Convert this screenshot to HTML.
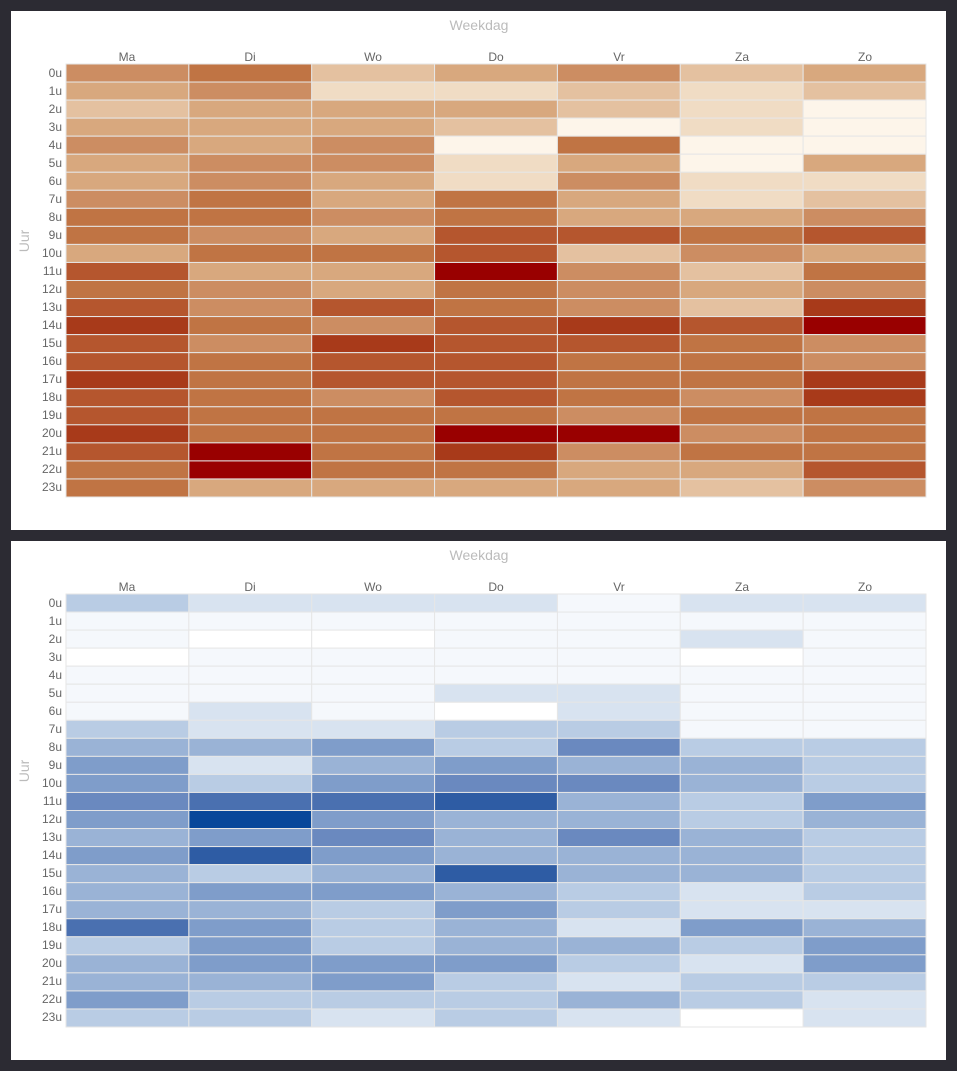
<!DOCTYPE html>
<html><head><meta charset="utf-8"><style>
body{margin:0;background:#2c2b33;width:957px;height:1071px;overflow:hidden;font-family:"Liberation Sans",sans-serif}
.p{position:absolute;left:11px;width:935px;height:519px;background:#fff}
svg{position:absolute;left:0;top:0}
.t{fill:#bbb;font-size:14px}
.d{fill:#666;font-size:12px;text-anchor:middle}
.r{fill:#666;font-size:12px;text-anchor:end}
</style></head><body>
<div class="p" style="top:11px"><svg width="935" height="519" id="s1">
<text class="t" x="468" y="19" text-anchor="middle">Weekdag</text>
<text class="t" transform="translate(18,230) rotate(-90)" text-anchor="middle">Uur</text>
<g id="d1"><text class="d" x="116" y="50">Ma</text><text class="d" x="239" y="50">Di</text><text class="d" x="362" y="50">Wo</text><text class="d" x="485" y="50">Do</text><text class="d" x="608" y="50">Vr</text><text class="d" x="731" y="50">Za</text><text class="d" x="854" y="50">Zo</text></g>
<g id="r1"><text class="r" x="51" y="66">0u</text><text class="r" x="51" y="84">1u</text><text class="r" x="51" y="102">2u</text><text class="r" x="51" y="120">3u</text><text class="r" x="51" y="138">4u</text><text class="r" x="51" y="156">5u</text><text class="r" x="51" y="174">6u</text><text class="r" x="51" y="192">7u</text><text class="r" x="51" y="210">8u</text><text class="r" x="51" y="228">9u</text><text class="r" x="51" y="246">10u</text><text class="r" x="51" y="264">11u</text><text class="r" x="51" y="282">12u</text><text class="r" x="51" y="300">13u</text><text class="r" x="51" y="318">14u</text><text class="r" x="51" y="336">15u</text><text class="r" x="51" y="354">16u</text><text class="r" x="51" y="372">17u</text><text class="r" x="51" y="390">18u</text><text class="r" x="51" y="408">19u</text><text class="r" x="51" y="426">20u</text><text class="r" x="51" y="444">21u</text><text class="r" x="51" y="462">22u</text><text class="r" x="51" y="480">23u</text></g>
</svg></div>
<div class="p" style="top:541px"><svg width="935" height="519" id="s2">
<text class="t" x="468" y="19" text-anchor="middle">Weekdag</text>
<text class="t" transform="translate(18,230) rotate(-90)" text-anchor="middle">Uur</text>
<g><text class="d" x="116" y="50">Ma</text><text class="d" x="239" y="50">Di</text><text class="d" x="362" y="50">Wo</text><text class="d" x="485" y="50">Do</text><text class="d" x="608" y="50">Vr</text><text class="d" x="731" y="50">Za</text><text class="d" x="854" y="50">Zo</text></g>
<g><text class="r" x="51" y="66">0u</text><text class="r" x="51" y="84">1u</text><text class="r" x="51" y="102">2u</text><text class="r" x="51" y="120">3u</text><text class="r" x="51" y="138">4u</text><text class="r" x="51" y="156">5u</text><text class="r" x="51" y="174">6u</text><text class="r" x="51" y="192">7u</text><text class="r" x="51" y="210">8u</text><text class="r" x="51" y="228">9u</text><text class="r" x="51" y="246">10u</text><text class="r" x="51" y="264">11u</text><text class="r" x="51" y="282">12u</text><text class="r" x="51" y="300">13u</text><text class="r" x="51" y="318">14u</text><text class="r" x="51" y="336">15u</text><text class="r" x="51" y="354">16u</text><text class="r" x="51" y="372">17u</text><text class="r" x="51" y="390">18u</text><text class="r" x="51" y="408">19u</text><text class="r" x="51" y="426">20u</text><text class="r" x="51" y="444">21u</text><text class="r" x="51" y="462">22u</text><text class="r" x="51" y="480">23u</text></g>
</svg></div>
<script>
var O=["#fdf5ea","#f0dcc4","#e4c1a0","#d8a87e","#cc8d62","#c07444","#b5562e","#a83a1a","#990000"];
var B=["#ffffff","#f5f8fc","#d8e3f0","#b9cce4","#9ab3d6","#7f9dca","#6a89bf","#4a70b0","#2e5ca4","#08479a"];
var A=["4523423","3411212","2333210","3332010","4340500","3441303","3431411","4535312","5545334","5436656","3556243","6338425","5435434","6465427","7546768","6476654","6566554","7566557","6546547","6555455","7558845","6857455","5855336","5333324"];
var C=["3222122","1111111","1001121","0111101","1111111","1112211","1210211","3223311","4453633","5245443","5356643","6778435","5954434","4564643","5854443","4348443","4554323","4435322","7534254","3534435","4555325","4453233","5333432","3323202"];
function draw(id,data,pal){var s=document.getElementById(id),ns="http://www.w3.org/2000/svg";
var x0=55,w=(915-55)/7,y0=53,h=(486-53)/24,g=document.createElementNS(ns,"g");
for(var r=0;r<24;r++)for(var c=0;c<7;c++){var e=document.createElementNS(ns,"rect");
e.setAttribute("x",x0+c*w);e.setAttribute("y",y0+r*h);e.setAttribute("width",w);e.setAttribute("height",h);
e.setAttribute("fill",pal[+data[r][c]]);e.setAttribute("stroke","#e6e6e6");e.setAttribute("stroke-width","1");g.appendChild(e);}
s.insertBefore(g,s.firstChild);}
draw("s1",A,O);draw("s2",C,B);
</script>
</body></html>
